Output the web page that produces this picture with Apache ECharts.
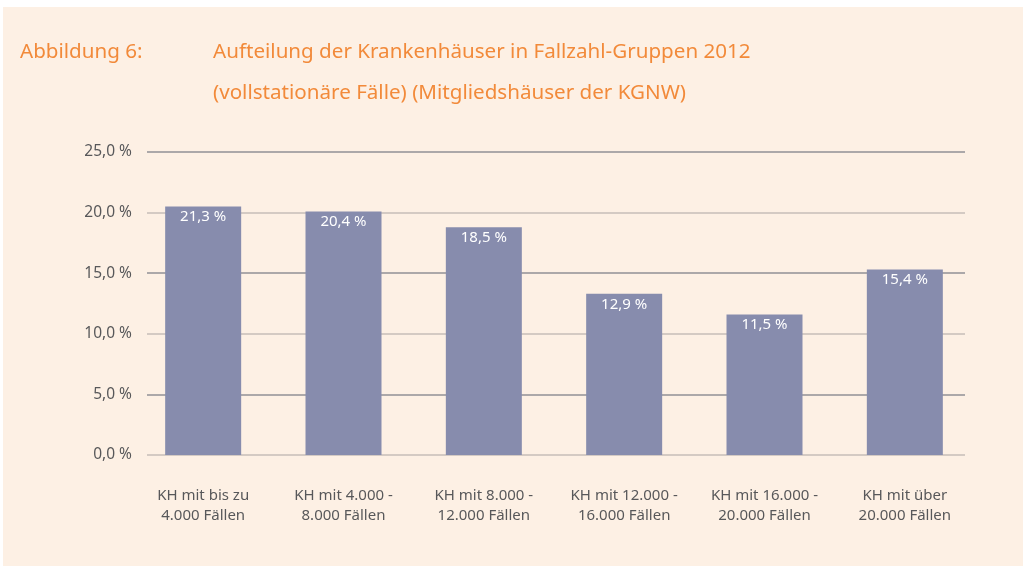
<!DOCTYPE html>
<html>
<head>
<meta charset="utf-8">
<script src="https://cdn.jsdelivr.net/npm/echarts@6/dist/echarts.min.js"></script>
<style>
  html, body { margin: 0; padding: 0; background: #ffffff; }
  #chart { position: absolute; left: 3px; top: 7px; width: 1020px; height: 559px; }
</style>
</head>
<body>
<div id="chart"></div>
<script>
// Kategorien (x-Achse)
var kategorien = [
  'KH mit bis zu\n4.000 Fällen',
  'KH mit 4.000 -\n8.000 Fällen',
  'KH mit 8.000 -\n12.000 Fällen',
  'KH mit 12.000 -\n16.000 Fällen',
  'KH mit 16.000 -\n20.000 Fällen',
  'KH mit über\n20.000 Fällen'
];
// Balkenhöhen wie im Bild gezeichnet (in %)
var balken = [20.5, 20.1, 18.8, 13.3, 11.6, 15.3];
// Beschriftung der Balken
var beschriftung = ['21,3 %', '20,4 %', '18,5 %', '12,9 %', '11,5 %', '15,4 %'];
// Achsenwerte
var yMin = 0, yMax = 25, yStep = 5;

var schrift = '"Noto Sans", sans-serif';
var orange = '#f28a3a';
var grau = '#58585a';

var myChart = echarts.init(document.getElementById('chart'));
var titelStil = { color: orange, fontSize: 20.6, fontWeight: 'normal', fontFamily: schrift };
var option = {
  backgroundColor: '#fdf0e4',
  textStyle: { fontFamily: schrift },
  title: [
    { text: 'Abbildung 6:', left: 17, top: 35, padding: 0, textStyle: titelStil },
    { text: 'Aufteilung der Krankenhäuser in Fallzahl-Gruppen 2012', left: 210, top: 35, padding: 0, textStyle: titelStil },
    { text: '(vollstationäre Fälle) (Mitgliedshäuser der KGNW)', left: 210, top: 76, padding: 0, textStyle: titelStil }
  ],
  grid: [
    // Gitterlinien + y-Beschriftung
    { left: 144, right: 58, top: 145, bottom: 111 },
    // Balken + Kategorien
    { left: 130, right: 48, top: 145, bottom: 111 }
  ],
  xAxis: [
    {
      type: 'category',
      gridIndex: 0,
      data: kategorien,
      show: false
    },
    {
      type: 'category',
      gridIndex: 1,
      data: kategorien,
      axisLine: { show: false },
      axisTick: { show: false },
      axisLabel: {
        color: grau,
        fontSize: 15,
        lineHeight: 20,
        margin: 31,
        interval: 0
      }
    }
  ],
  yAxis: [
    {
      type: 'value',
      gridIndex: 0,
      min: yMin,
      max: yMax,
      interval: yStep,
      axisLine: { show: false },
      axisTick: { show: false },
      axisLabel: {
        color: grau,
        fontSize: 15.5,
        margin: 15,
        formatter: function (v) { return v.toFixed(1).replace('.', ',') + ' %'; }
      },
      splitLine: {
        lineStyle: { color: ['#c6beb8', '#909096'], width: 1.5 }
      }
    },
    {
      type: 'value',
      gridIndex: 1,
      min: yMin,
      max: yMax,
      interval: yStep,
      show: false,
      splitLine: { show: false }
    }
  ],
  series: [
    {
      type: 'bar',
      xAxisIndex: 1,
      yAxisIndex: 1,
      data: balken,
      barWidth: 76,
      itemStyle: { color: '#878cad' },
      label: {
        show: true,
        position: 'insideTop',
        distance: 3,
        color: '#ffffff',
        fontSize: 15,
        formatter: function (p) { return beschriftung[p.dataIndex]; }
      }
    }
  ]
};
myChart.setOption(option);
window.onresize = function () {
  myChart.resize();
};
</script>
</body>
</html>
